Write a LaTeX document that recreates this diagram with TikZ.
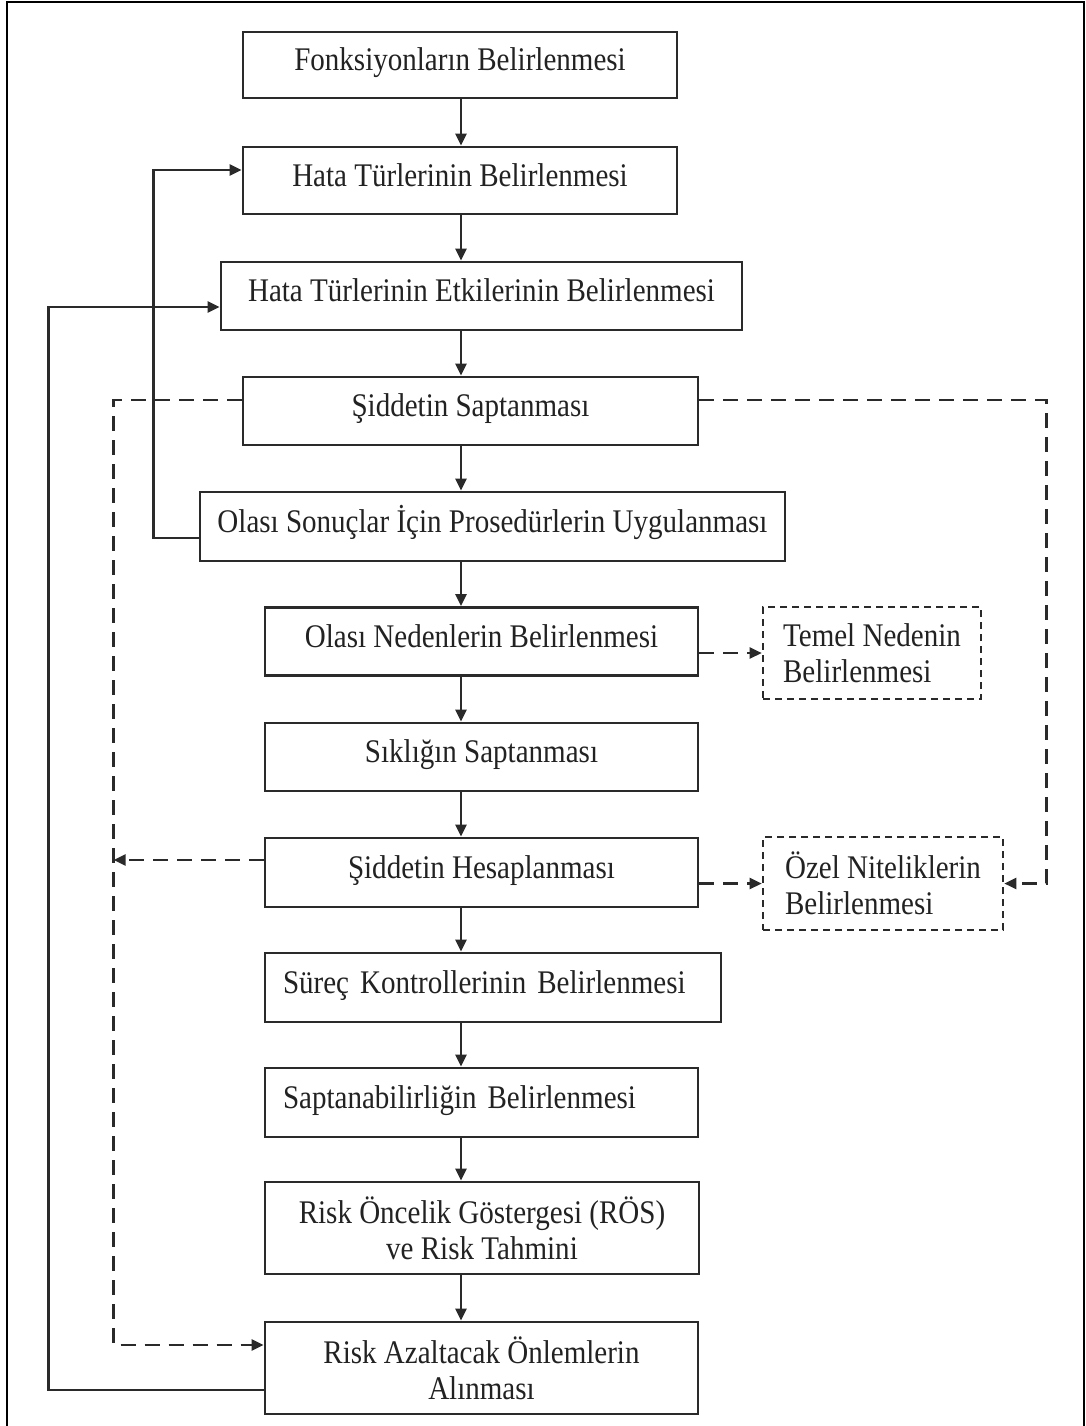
\documentclass[tikz,border=0pt]{standalone}
\usepackage{fontspec}
\setmainfont{Liberation Serif}[FakeStretch=0.88]
\usetikzlibrary{arrows.meta}

\definecolor{ink}{HTML}{222222}
\definecolor{rule}{HTML}{2A2A2A}

\tikzset{
  stepbox/.style={draw=rule, line width=2.8pt, rectangle, inner sep=0pt,
    text=ink, align=center, font=\fontsize{33}{36}\selectfont},
  oneline/.style={text height=24pt, text depth=13pt},
  leftset/.style={align=left, inner xsep=18pt, text width=#1},
  optbox/.style={draw=rule, line width=2.6pt, rectangle, inner sep=0pt,
    dash pattern=on 7pt off 5pt, text=ink, align=left,
    font=\fontsize{33}{36}\selectfont},
  tip/.style={-{Triangle[length=12pt,width=11pt]}},
  conn/.style={draw=rule, line width=2.4pt, tip},
  dconn/.style={draw=rule, line width=2.4pt, dash pattern=on 15pt off 9pt, tip},
}

\begin{document}
\begin{tikzpicture}[x=1pt, y=-1pt]
  \useasboundingbox (0,0) rectangle (1086,1426);
  \fill[white] (0,0) rectangle (1086,1426);
  % frame, open at the bottom
  \draw[black, line width=2.2pt] (7,1426) -- (7,2) -- (1084,2) -- (1084,1426);

  % main chain of steps
  \node[stepbox, oneline, minimum width=434pt, minimum height=66pt] (f)   at (460,65)    {Fonksiyonların Belirlenmesi};
  \node[stepbox, oneline, minimum width=434pt, minimum height=67pt] (ht)  at (460,180.5) {Hata Türlerinin Belirlenmesi};
  \node[stepbox, oneline, minimum width=521pt, minimum height=68pt] (hte) at (481.5,296) {Hata Türlerinin Etkilerinin Belirlenmesi};
  \node[stepbox, oneline, minimum width=455pt, minimum height=68pt] (ss)  at (470.5,411) {Şiddetin Saptanması};
  \node[stepbox, oneline, minimum width=585pt, minimum height=69pt] (os)  at (492.5,526.5) {Olası Sonuçlar İçin Prosedürlerin Uygulanması};
  \node[stepbox, oneline, minimum width=433pt, minimum height=68pt] (on)  at (481.5,641.5) {Olası Nedenlerin Belirlenmesi};
  \node[stepbox, oneline, minimum width=433pt, minimum height=68pt] (sk)  at (481.5,757) {Sıklığın Saptanması};
  \node[stepbox, oneline, minimum width=433pt, minimum height=69pt] (sh)  at (481.5,872.5) {Şiddetin Hesaplanması};
  \node[stepbox, oneline, leftset=420pt, minimum width=456pt, minimum height=69pt] (sc)  at (493,987.5) {Süreç Kontrollerinin Belirlenmesi};
  \node[stepbox, oneline, leftset=397pt, minimum width=433pt, minimum height=69pt] (sb)  at (481.5,1102.5) {Saptanabilirliğin Belirlenmesi};
  \node[stepbox, minimum width=434pt, minimum height=92pt] (rog) at (482,1228) {Risk Öncelik Göstergesi (RÖS)\\ve Risk Tahmini};
  \node[stepbox, minimum width=433pt, minimum height=92pt] (ra)  at (481.5,1368) {Risk Azaltacak Önlemlerin\\Alınması};

  % optional side steps
  \node[optbox, minimum width=218pt, minimum height=92pt] (tm) at (872,653)   {Temel Nedenin\\Belirlenmesi};
  \node[optbox, minimum width=240pt, minimum height=93pt] (oz) at (883,883.5) {Özel Niteliklerin\\Belirlenmesi};

  % vertical spine of the chain
  \coordinate (sp) at (461,0);
  \foreach \a/\b in {f/ht, ht/hte, hte/ss, ss/os, os/on, on/sk, sk/sh, sh/sc, sc/sb, sb/rog, rog/ra}
    \draw[conn] (\a.south -| sp) -- (\b.north -| sp);

  % solid feedback loops
  \draw[conn] ([yshift=-11.5pt]os.west) -- ++(-45,0) |- ([yshift=10.5pt]ht.west);
  \draw[conn] ([yshift=-22pt]ra.west) -- ++(-215,0) |- ([yshift=-11pt]hte.west);

  % dashed links
  \draw[dconn] ([yshift=11pt]ss.west) -- ++(-128,0) |- ([yshift=23pt]ra.west);
  \draw[dconn] ([yshift=12.5pt]sh.west) -- ++(-150,0);
  \draw[dconn] ([yshift=11pt]ss.east) -- ++(347,0) |- (oz.east);
  \draw[dconn] (tm.west -| on.east) -- (tm.west);
  \draw[dconn] (oz.west -| sh.east) -- (oz.west);
\end{tikzpicture}
\end{document}
